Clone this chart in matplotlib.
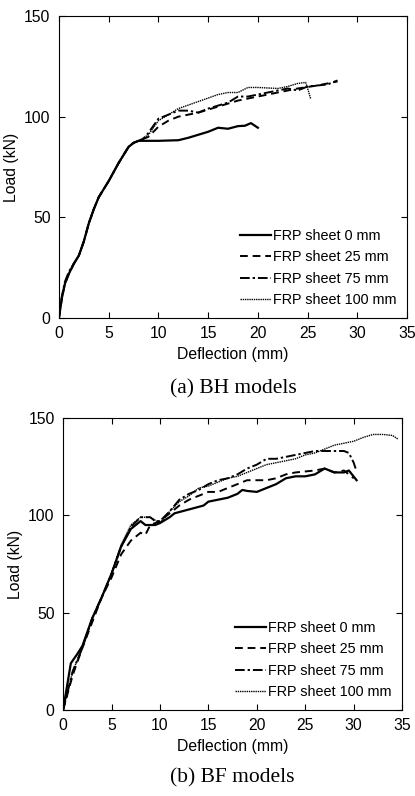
import numpy as np
from matplotlib import pyplot as plt

plt.rcParams['font.family'] = ['Liberation Sans', 'DejaVu Sans']

labels = ['FRP sheet 0 mm', 'FRP sheet 25 mm', 'FRP sheet 75 mm', 'FRP sheet 100 mm']

## (a) BH models
bh_x0 = [0, 0.3, 0.6, 1, 1.5, 2, 2.5, 3, 3.5, 4, 5, 6, 7, 7.5, 8, 10, 12, 13, 14, 15, 16, 17, 18, 18.7, 19.3, 20]
bh_y0 = [0, 10, 17, 22, 27, 31, 38, 47, 54, 60, 68, 77, 85, 87, 88, 88, 88.3, 89.5, 91, 92.5, 94.5, 94, 95.3, 95.5, 96.8, 94.5]
bh_x25 = [0, 0.3, 0.6, 1, 1.5, 2, 2.5, 3, 3.5, 4, 5, 6, 7, 7.5, 8, 9, 10, 11, 12, 14, 16, 18, 20, 22, 24, 26, 27, 28]
bh_y25 = [0, 10, 17, 22, 27, 31, 38, 47, 54, 60, 68, 77, 85, 87, 88, 90, 95, 98, 100, 102, 105, 108, 110, 112, 114, 115.5, 116.5, 117.5]
bh_x75 = [0, 0.3, 0.6, 1, 1.5, 2, 2.5, 3, 3.5, 4, 5, 6, 7, 7.5, 8, 8.5, 9, 10, 11, 12, 13, 14, 15, 17, 18, 19, 20, 22, 23, 24, 25, 27, 28]
bh_y75 = [0, 11, 18, 23, 27, 31, 38, 47, 54, 60, 68, 77, 85, 87, 88, 89, 92, 99, 101, 103, 103, 102, 104, 107, 110, 110, 111, 113, 114, 113, 115, 116, 118]
bh_x100 = [0, 0.3, 0.6, 1, 1.5, 2, 2.5, 3, 3.5, 4, 5, 6, 7, 7.5, 8, 9, 10, 11, 12, 14, 16, 17, 18, 19, 20, 22, 23, 24, 24.8, 25, 25.3]
bh_y100 = [0, 10, 17, 22, 27, 31, 38, 47, 54, 60, 68, 77, 85, 87, 88, 91, 98, 101, 104, 107.5, 111, 112, 112, 114.5, 114.5, 114, 115, 116.5, 117, 114, 109]

## (b) BF models
bf_x0 = [0, 0.8, 1.5, 2, 3, 4, 5, 6, 7, 8, 8.5, 9.5, 10, 11, 11.5, 13, 14.5, 15, 16, 17, 18, 18.5, 19, 20, 21, 22, 23, 24, 25, 26, 27, 28, 29, 29.5, 30.3]
bf_y0 = [0, 24, 29, 33, 47, 58, 70, 84, 93, 97, 95, 95, 96, 99, 101, 103, 105, 107, 108, 109, 111, 113, 112.5, 112, 114, 116, 119, 120, 120, 121, 124, 122, 122, 123, 118]
bf_x25 = [0, 1, 2, 3, 4, 5, 6, 7, 8, 8.5, 9, 10, 11, 12, 13, 14, 15, 16, 17, 18, 19, 21, 22, 23, 24, 26, 27, 28, 29, 30]
bf_y25 = [0, 18, 32, 45, 58, 68, 80, 87, 91, 90, 95, 97, 101, 105, 108, 110, 112, 112, 114, 116, 118, 118, 119, 121, 122, 123, 124, 122, 123, 119]
bf_x75 = [0, 1, 2, 3, 4, 5, 6, 7, 8, 9, 9.5, 10, 11, 12, 13, 14, 15, 16, 17, 18, 19, 20, 21, 22, 23, 24, 25, 26, 27, 28, 29, 29.5, 30, 30.2]
bf_y75 = [0, 20, 32, 47, 58, 70, 84, 94, 99, 99, 97, 97, 102, 108, 111, 113, 116, 118, 119, 121, 124, 126, 129, 129, 130, 131, 132, 133, 133, 133, 133, 132, 127, 124]
bf_x100 = [0, 1, 2, 3, 4, 5, 6, 7, 8, 9, 10, 11, 12, 13, 14, 15, 16, 17, 18, 19, 20, 21, 22, 23, 24, 25, 26, 27, 28, 29, 30, 31, 32, 33, 34, 34.6]
bf_y100 = [0, 20, 32, 47, 58, 70, 85, 95, 99, 99, 96, 102, 107, 110, 114, 115, 117, 119, 120, 122, 124, 126, 127, 128, 129, 131, 132, 134, 136, 137, 138, 140, 141.5, 141.5, 141, 139]

styles = [dict(ls='-', lw=1.6), dict(ls=(0, (4, 2.5)), lw=1.4),
          dict(ls=(0, (5, 1.5, 1.2, 1.5)), lw=1.4), dict(ls=(0, (1, 0.6)), lw=1.0)]


def panel(ax, xs, ys, caption, cap_y):
    for x, y, lab, st in zip(xs, ys, labels, styles):
        ax.plot(x, y, color='black', label=lab, **st)
    ax.set_xlim(0, 35)
    ax.set_ylim(0, 150)
    ax.set_xticks(np.arange(0, 36, 5))
    ax.set_yticks([0, 50, 100, 150])
    ax.tick_params(direction='in', top=True, right=True, labelsize=11.3, length=4, pad=6)
    ax.set_xlabel('Deflection (mm)', fontsize=11.3, labelpad=4)
    ax.set_ylabel('Load (kN)', fontsize=11.3, labelpad=4)
    ax.legend(loc='lower right', frameon=False, fontsize=10.4, handlelength=2.2,
              handletextpad=0.1, labelspacing=0.52, borderaxespad=0.35)
    fig.text(ax.get_position().x0 + ax.get_position().width / 2, cap_y, caption,
             ha='center', va='center', family='Liberation Serif', fontsize=15.5)


fig = plt.figure(figsize=(4.15, 7.96), dpi=100)
ax1 = fig.add_axes([0.142, 0.6005, 0.839, 0.3794])
ax2 = fig.add_axes([0.152, 0.108, 0.817, 0.367])
panel(ax1, [bh_x0, bh_x25, bh_x75, bh_x100], [bh_y0, bh_y25, bh_y75, bh_y100], '(a) BH models', 1 - 389 / 796)
panel(ax2, [bf_x0, bf_x25, bf_x75, bf_x100], [bf_y0, bf_y25, bf_y75, bf_y100], '(b) BF models', 1 - 778 / 796)

plt.savefig('out.png', dpi=100)
